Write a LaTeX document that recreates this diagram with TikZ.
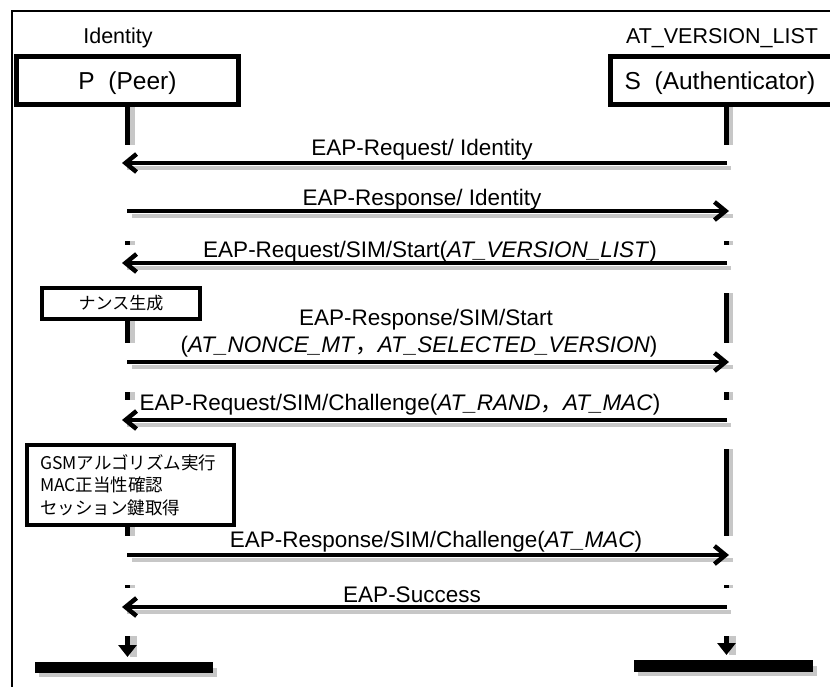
\documentclass[tikz,border=0pt]{standalone}
\usepackage{fontspec}
\setmainfont{Liberation Sans}
\newfontfamily\jp{Noto Sans CJK JP}
\usetikzlibrary{arrows.meta}
\newcommand\lifeseg[3]{%
  \fill[black!22] (#1+2.5,#2) rectangle (#1+7,#3);
  \fill[black] (#1-2.5,#2) rectangle (#1+2.5,#3);}
\begin{document}
\begin{tikzpicture}[x=1pt,y=-1pt,
  msg/.style={line width=4.5pt},
  msgshade/.style={line width=4pt, black!22},
  barb/.style={-{Straight Barb[length=11pt,width=18pt]}},
  lbl/.style={anchor=base, inner sep=0pt, font=\fontsize{22.5}{27}\selectfont},
  toplbl/.style={anchor=base, inner sep=0pt, font=\fontsize{21.5}{26}\selectfont},
  actor/.style={draw, line width=5pt, inner sep=0pt},
  note/.style={draw, line width=3.8pt, inner sep=0pt}
]
\useasboundingbox (0,0) rectangle (830,686);
\clip (0,0) rectangle (830,686);
% frame
\draw[line width=1.8pt] (12,11) rectangle (845,700);

% top labels
\node[toplbl] (idl) at (118,43) {Identity};
\node[toplbl] (avl) at (722,43) {AT\_VERSION\_LIST};

% actor boxes
\node[actor, minimum width=222pt, minimum height=48pt] (P) at (127.5,80.5) {};
\node[anchor=base, inner sep=0pt, font=\fontsize{24.5}{28}\selectfont] (Ptext) at (127.5,89) {P\ \ (Peer)};
\node[actor, minimum width=232pt, minimum height=48pt] (S) at (726,80.5) {};
\node[anchor=base, inner sep=0pt, font=\fontsize{24.5}{28}\selectfont] (Stext) at (720,89) {S\ \ (Authenticator)};

% lifelines
\lifeseg{127.5}{107}{145}
\lifeseg{726}{107}{145}
\lifeseg{127.5}{241}{245}
\lifeseg{726}{241}{245}
\lifeseg{127.5}{321}{343}
\lifeseg{726}{293}{343}
\lifeseg{127.5}{392}{400}
\lifeseg{726}{392}{400}
\lifeseg{127.5}{527}{536}
\lifeseg{726}{449}{536}
\lifeseg{127.5}{585}{588}
\lifeseg{726}{585}{588}

% message end points
\coordinate (p1) at (122,163); \coordinate (s1) at (727,163);
\coordinate (p2) at (127,211); \coordinate (s2) at (729,211);
\coordinate (p3) at (122,263); \coordinate (s3) at (727,263);
\coordinate (p4) at (127,362); \coordinate (s4) at (729,362);
\coordinate (p5) at (122,420); \coordinate (s5) at (727,420);
\coordinate (p7) at (127,555); \coordinate (s7) at (729,555);
\coordinate (p8) at (122,607); \coordinate (s8) at (727,607);

% shadows
\foreach \a/\b in {p1/s1,p2/s2,p3/s3,p4/s4,p5/s5,p7/s7,p8/s8}
  \draw[msgshade] ([shift={(5,5)}]\a) -- ([shift={(4,5)}]\b);

% arrows
\draw[msg,barb] (s1) -- (p1);
\draw[msg,barb] (p2) -- (s2);
\draw[msg,barb] (s3) -- (p3);
\draw[msg,barb] (p4) -- (s4);
\draw[msg,barb] (s5) -- (p5);
\draw[msg,barb] (p7) -- (s7);
\draw[msg,barb] (s8) -- (p8);

% labels
\node[lbl] (m1) at (422,155) {EAP-Request/ Identity};
\node[lbl] (m2) at (422,205) {EAP-Response/ Identity};
\node[lbl] (m3) at (430,257) {EAP-Request/SIM/Start(\textit{AT\_VERSION\_LIST})};
\node[lbl] (m4a) at (426,325) {EAP-Response/SIM/Start};
\node[lbl] (m4b) at (419,352) {(\textit{AT\_NONCE\_MT}{\jp ，}\textit{AT\_SELECTED\_VERSION})};
\node[lbl] (m5) at (400,410) {EAP-Request/SIM/Challenge(\textit{AT\_RAND}{\jp ，}\textit{AT\_MAC})};
\node[lbl] (m7) at (436,547) {EAP-Response/SIM/Challenge(\textit{AT\_MAC})};
\node[lbl] (m8) at (412,602) {EAP-Success};

% notes
\node[note, minimum width=158pt, minimum height=31pt, font=\jp\fontsize{17}{20}\selectfont] (nonce) at (121,303.5) {ナンス生成};
\node[note, minimum width=207pt, minimum height=80.5pt, text width=181pt, align=left,
      font=\jp\fontsize{17.5}{22.5}\selectfont] (gsm) at (130.5,485) {GSMアルゴリズム実行\\MAC正当性確認\\セッション鍵取得};

% end arrows
\coordinate (pe1) at (127.5,636); \coordinate (pe2) at (127.5,657);
\coordinate (se1) at (726.5,636); \coordinate (se2) at (726.5,655);
\fill[black!22] (130,636) rectangle (137,657);
\fill[black!22] (729,636) rectangle (736,655);
\draw[line width=5.5pt, -{Triangle[length=12pt,width=18pt]}] (pe1) -- (pe2);
\draw[line width=5.5pt, -{Triangle[length=12pt,width=18pt]}] (se1) -- (se2);

% end bars
\fill[black!22] (39,668) rectangle (217,677);
\fill[black] (35,662) rectangle (213,673) coordinate (pbar);
\fill[black!22] (638,666) rectangle (817,676);
\fill[black] (634,660) rectangle (813,672) coordinate (sbar);
\end{tikzpicture}
\end{document}
